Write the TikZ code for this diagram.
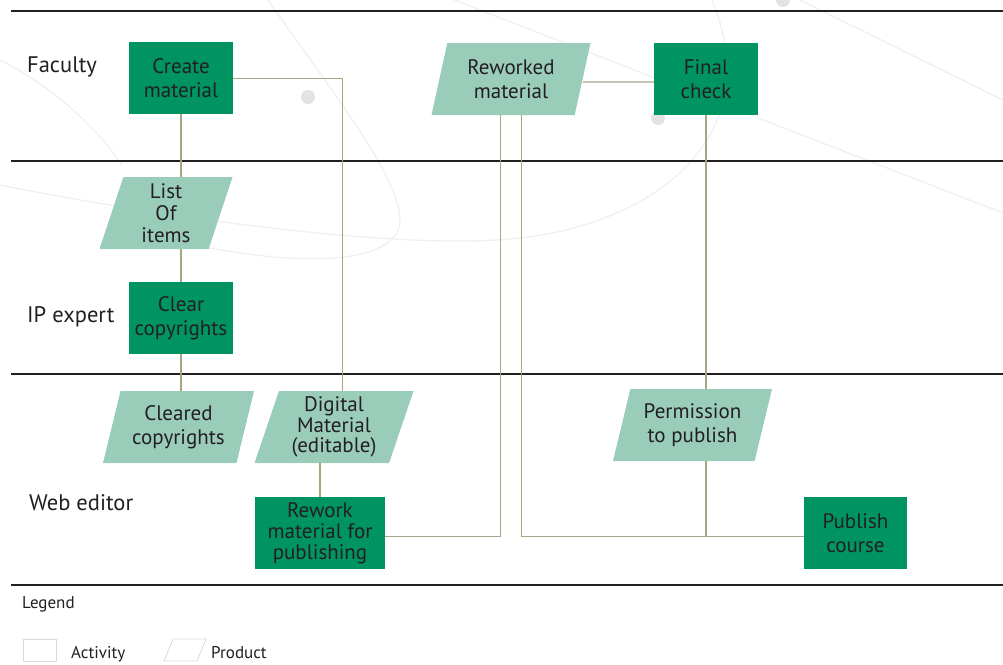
\documentclass[tikz,border=0pt]{standalone}
\usepackage{fontspec}
\setmainfont{PT Sans}
\usetikzlibrary{shapes.geometric}
\usetikzlibrary{calc}
\definecolor{darkgreen}{RGB}{0,148,99}
\definecolor{lightgreen}{RGB}{153,204,185}
\definecolor{inktext}{RGB}{35,31,32}
\definecolor{linkcol}{RGB}{168,165,133}
\definecolor{legendcol}{RGB}{220,218,208}
\tikzset{
  activity/.style={rectangle, fill=darkgreen, text=inktext, align=center,
    inner sep=0pt, minimum width=104pt, minimum height=72pt,
    font=\fontsize{21}{24}\selectfont},
  product/.style={trapezium, trapezium left angle=68, trapezium right angle=112,
    trapezium stretches body, fill=lightgreen, text=inktext, align=center,
    inner sep=0pt, minimum width=159pt, minimum height=72pt,
    font=\fontsize{21}{24}\selectfont},
  lane/.style={anchor=base west, text=inktext, inner sep=0pt,
    font=\fontsize{22.5}{26}\selectfont},
  legtext/.style={anchor=base west, text=inktext, inner sep=0pt,
    font=\fontsize{17}{20}\selectfont},
  link/.style={draw=linkcol, line width=1.3pt},
  swim/.style={draw=inktext, line width=2pt},
  decor/.style={draw=black!6, line width=1.3pt}
}

\begin{document}
\begin{tikzpicture}[x=1pt,y=-1pt]
    \useasboundingbox (0,0) rectangle (1003,664);

    % faint background curves
    \draw[decor] (0,60) .. controls (50,85) and (95,125) .. (122,165);
    \draw[decor] (268,0) .. controls (330,90) and (420,200) .. (396,234)
        .. controls (372,268) and (280,262) .. (200,246);
    \draw[decor] (0,185) .. controls (150,215) and (400,252) .. (520,238)
        .. controls (650,224) and (770,140) .. (712,0);
    \draw[decor] (454,0) -- (1003,213);
    \draw[decor] (800,0) -- (1003,100);
    \fill[black!11] (308,97) circle (7);
    \fill[black!11] (658,118) circle (7);
    \fill[black!11] (783,0) circle (7);

    % swimlanes
    \draw[swim] (11,11) -- (1003,11);
    \draw[swim] (11,161) -- (1003,161);
    \draw[swim] (11,374) -- (1003,374);
    \draw[swim] (11,585) -- (1003,585);

    \node[lane] (fac) at (27,72) {Faculty};
    \node[lane] (ipx) at (27,322) {IP expert};
    \node[lane] (web) at (29,510) {Web editor};

    % activities
    \node[activity] (CM) at (181,78) {Create\\material};
    \node[activity] (CL) at (181,318) {Clear\\copyrights};
    \node[activity, minimum width=130pt, font=\fontsize{21}{21}\selectfont] (RM) at (320,533) {Rework\\material for\\publishing};
    \node[activity] (FC) at (706,79) {Final\\check};
    \node[activity, minimum width=103pt] (PC) at (855.5,533) {Publish\\course};

    % products
    \node[product, minimum width=133pt, font=\fontsize{21}{22}\selectfont] (LI) at (166,213) {List\\Of\\items};
    \node[product, minimum width=151pt] (CC) at (178.5,427) {Cleared\\copyrights};
    \node[product, font=\fontsize{21}{20.5}\selectfont] (DM) at (334,427) {Digital\\Material\\(editable)};
    \node[product] (RW) at (511,79) {Reworked\\material};
    \node[product] (PP) at (692.5,425) {Permission\\to publish};

    % connectors
    \coordinate (jn) at ([yshift=-3pt]PC.west);
    \draw[link] (CM.south) -- (CM.south |- LI.north);
    \draw[link] (CL.north) -- (CL.north |- LI.south);
    \draw[link] (CL.south) -- (CL.south |- CC.north);
    \draw[link, line width=1pt] (CM.east) -| ([xshift=8pt]DM.north);
    \draw[link] (RM.north) -- (RM.north |- DM.south);
    \draw[link, line width=1pt] ([yshift=-3pt]RM.east) -| ([xshift=-11pt]RW.south);
    \draw[link, line width=1pt] ([xshift=10pt]RW.south) |- (jn);
    \draw[link] ([yshift=-3pt]RW.east) -- ([yshift=-3pt]FC.west);
    \draw[link] (FC.south) -- (FC.south |- PP.north);
    \draw[link] (FC.south |- PP.south) -- (FC.south |- jn);

    % legend
    \node[legtext] (leg) at (22,608) {Legend};
    \node[draw=legendcol, line width=0.8pt, minimum width=33pt, minimum height=22pt,
      inner sep=0pt] (lact) at (40,650) {};
    \node[legtext] (tact) at (71,658) {Activity};
    \draw[draw=legendcol, line width=0.8pt] (173,639) -- (206,639) -- (197,661) -- (164,661) -- cycle;
    \node[legtext] (tprod) at (211,658) {Product};
  \end{tikzpicture}
\end{document}
